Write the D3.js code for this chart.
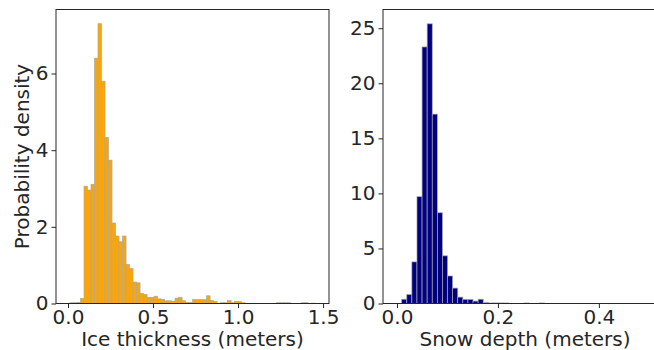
<!DOCTYPE html>
<html>
<head>
<meta charset="utf-8">
<script src="https://cdn.jsdelivr.net/npm/d3@7"></script>
<style>
  body { margin: 0; background: #fff; }
  text { font-family: "DejaVu Sans", sans-serif; fill: #262626; }
  .axis path, .axis line { stroke: #262626; }
</style>
</head>
<body>
<div id="chart"></div>
<script>
// ice thickness histogram: 70 bins starting at iceStart, width iceWidth
var iceStart = 0.0117, iceWidth = 0.0206;
var iceDensity = [
  0.02, 0.02, 0.03, 0.13, 3.06, 2.96, 3.11, 6.4, 7.3, 5.8,
  4.33, 3.74, 2.1, 1.76, 1.61, 1.76, 1.02, 0.91, 0.56, 0.54,
  0.26, 0.24, 0.16, 0.16, 0.19, 0.12, 0.11, 0.07, 0.07, 0.06,
  0.14, 0.16, 0.07, 0.03, 0.03, 0.1, 0.1, 0.1, 0.1, 0.2,
  0.08, 0.05, 0, 0.02, 0.02, 0.08, 0.02, 0.05, 0.05, 0.02,
  0, 0, 0, 0, 0, 0, 0, 0, 0, 0.02,
  0.02, 0.02, 0.02, 0, 0, 0, 0.02, 0.02, 0, 0.01
];
var iceTicksX = [0, 0.5, 1.0, 1.5];
var iceTicksY = [0, 2, 4, 6];

// snow depth histogram
var snowStart = 0.0093, snowWidth = 0.0101;
var snowDensity = [
  0.39, 0.82, 3.78, 9.7, 23.3, 25.4, 17.2, 8.24, 4.33, 2.5,
  1.4, 0.58, 0.38, 0.37, 0.22, 0.39, 0.08, 0.05, 0.05, 0.05,
  0.05, 0, 0, 0, 0.05, 0, 0, 0.05
];
var snowTicksX = [0, 0.2, 0.4];
var snowTicksY = [0, 5, 10, 15, 20, 25];

var W = 654, H = 350, fs = "20px";
var svg = d3.select("#chart").append("svg")
    .attr("width", W)
    .attr("height", H);

function panel(opt) {
  var x = d3.scaleLinear().domain(opt.xdom).range([opt.left, opt.right]);
  var y = d3.scaleLinear().domain(opt.ydom).range([303.5, 9.5]);

  var bins = opt.values.map(function(v, i) {
    return { x0: opt.start + i * opt.width, x1: opt.start + (i + 1) * opt.width, v: v };
  });

  svg.append("g").selectAll("rect")
    .data(bins.filter(function(d) { return d.v > 0; }))
    .enter().append("rect")
      .attr("x", function(d) { return x(d.x0); })
      .attr("y", function(d) { return y(d.v); })
      .attr("width", function(d) { return x(d.x1) - x(d.x0); })
      .attr("height", function(d) { return y(0) - y(d.v); })
      .attr("fill", opt.color)
      .attr("stroke", "#a8a8a8")
      .attr("stroke-width", 0.7);

  // frame
  svg.append("rect")
    .attr("x", opt.left).attr("y", 9.5)
    .attr("width", opt.right - opt.left).attr("height", 303.5 - 9.5)
    .attr("fill", "none").attr("stroke", "#262626").attr("stroke-width", 1);

  svg.append("g")
    .attr("class", "axis")
    .attr("transform", "translate(0,303.5)")
    .call(d3.axisBottom(x).tickValues(opt.xticks).tickFormat(d3.format(".1f")).tickSize(4.5).tickPadding(2))
    .call(function(g) { g.select(".domain").remove(); })
    .selectAll("text").style("font-size", fs).attr("fill", "#262626");

  svg.append("g")
    .attr("class", "axis")
    .attr("transform", "translate(" + opt.left + ",0)")
    .call(d3.axisLeft(y).tickValues(opt.yticks).tickFormat(d3.format("d")).tickSize(4.5).tickPadding(3))
    .call(function(g) { g.select(".domain").remove(); })
    .selectAll("text").style("font-size", fs).attr("fill", "#262626");

  svg.append("text")
    .attr("x", (opt.left + opt.right) / 2)
    .attr("y", 346)
    .attr("text-anchor", "middle")
    .style("font-size", fs)
    .text(opt.xlabel);
}

panel({
  left: 56, right: 329,
  xdom: [-0.0706, 1.535], ydom: [0, 7.67],
  start: iceStart, width: iceWidth, values: iceDensity,
  xticks: iceTicksX, yticks: iceTicksY,
  color: "#ffa500", xlabel: "Ice thickness (meters)"
});

panel({
  left: 383, right: 667,
  xdom: [-0.0277, 0.535], ydom: [0, 26.7],
  start: snowStart, width: snowWidth, values: snowDensity,
  xticks: snowTicksX, yticks: snowTicksY,
  color: "#000080", xlabel: "Snow depth (meters)"
});

svg.append("text")
  .attr("transform", "translate(29,156.5) rotate(-90)")
  .attr("text-anchor", "middle")
  .style("font-size", fs)
  .text("Probability density");
</script>
</body>
</html>
